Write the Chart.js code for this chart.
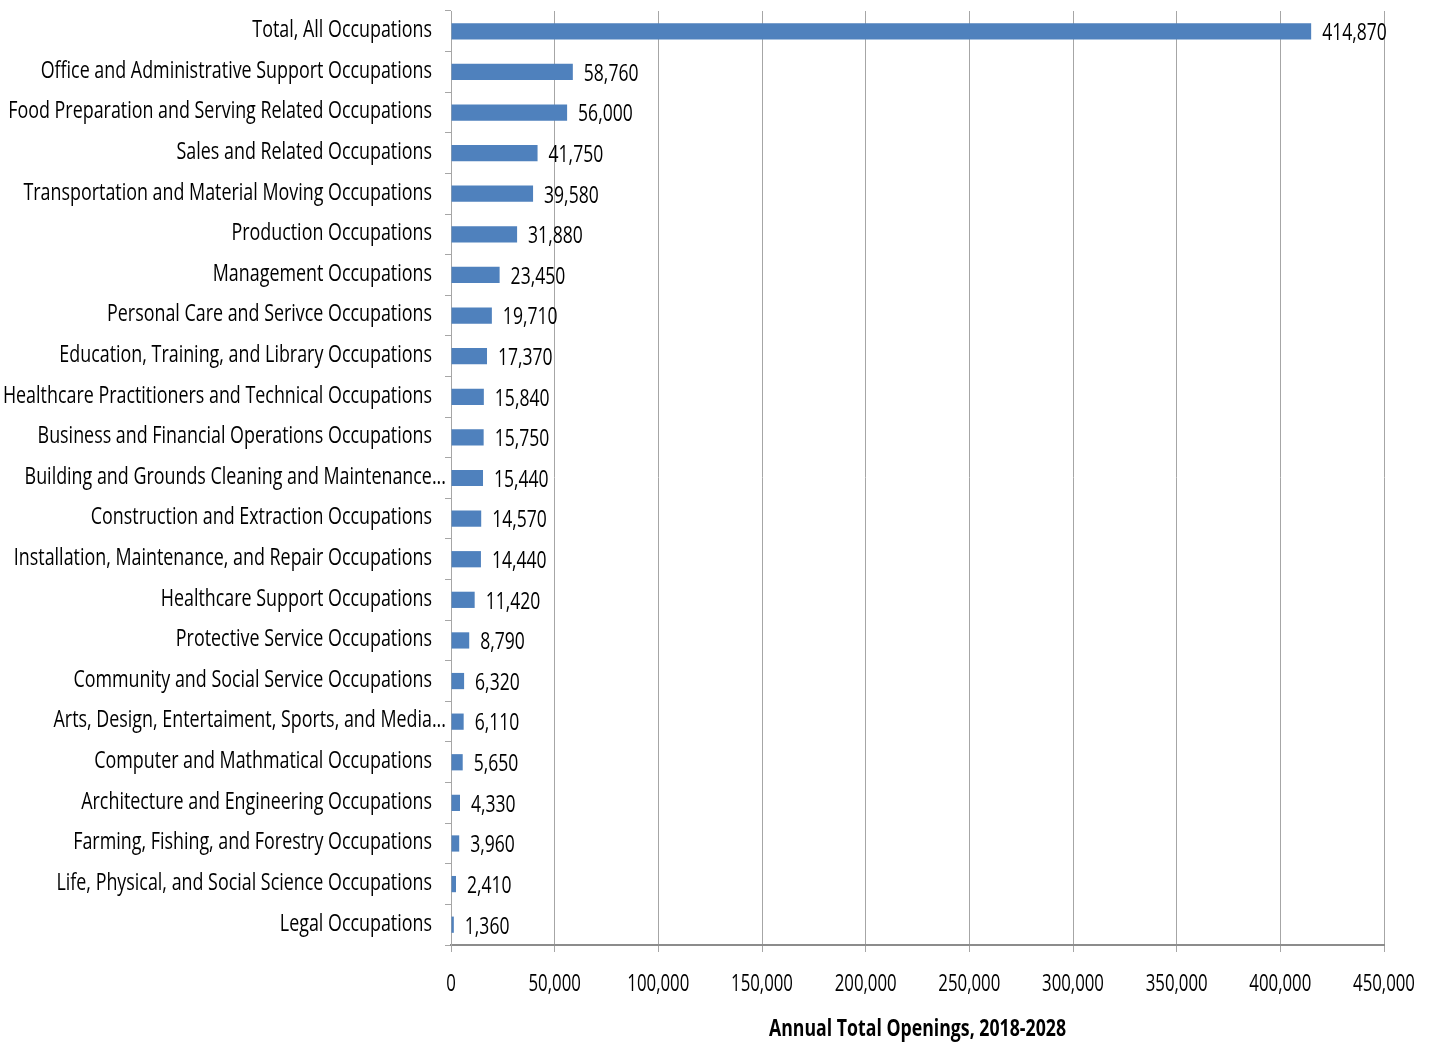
<!DOCTYPE html>
<html>
<head>
<meta charset="utf-8">
<script src="https://cdn.jsdelivr.net/npm/chart.js@4/dist/chart.umd.min.js"></script>
<style>
  html, body { margin: 0; padding: 0; background: #fff; }
  #wrap { width: 1433px; height: 1043px; }
</style>
</head>
<body>
<div id="wrap"><canvas id="c" width="1433" height="1043"></canvas></div>
<script>
const categories = [
  "Total, All Occupations",
  "Office and Administrative Support Occupations",
  "Food Preparation and Serving Related Occupations",
  "Sales and Related Occupations",
  "Transportation and Material Moving Occupations",
  "Production Occupations",
  "Management Occupations",
  "Personal Care and Serivce Occupations",
  "Education, Training, and Library Occupations",
  "Healthcare Practitioners and Technical Occupations",
  "Business and Financial Operations Occupations",
  "Building and Grounds Cleaning and Maintenance...",
  "Construction and Extraction Occupations",
  "Installation, Maintenance, and Repair Occupations",
  "Healthcare Support Occupations",
  "Protective Service Occupations",
  "Community and Social Service Occupations",
  "Arts, Design, Entertaiment, Sports, and Media...",
  "Computer and Mathmatical Occupations",
  "Architecture and Engineering Occupations",
  "Farming, Fishing, and Forestry Occupations",
  "Life, Physical, and Social Science Occupations",
  "Legal Occupations"
];
const openings = [414870, 58760, 56000, 41750, 39580, 31880, 23450, 19710, 17370, 15840, 15750, 15440, 14570, 14440, 11420, 8790, 6320, 6110, 5650, 4330, 3960, 2410, 1360];
const xTickValues = [0, 50000, 100000, 150000, 200000, 250000, 300000, 350000, 400000, 450000];
const axisTitle = "Annual Total Openings, 2018-2028";

const FAMILY = "'Open Sans', sans-serif";
const fmt = v => v.toLocaleString('en-US');

// draws text horizontally condensed (the source uses a condensed typeface)
function condensedText(ctx, text, x, y, align, font, sx) {
  ctx.save();
  ctx.translate(x, y);
  ctx.scale(sx, 1);
  ctx.font = font;
  ctx.fillStyle = '#000';
  ctx.textAlign = align;
  ctx.textBaseline = 'middle';
  ctx.fillText(text, 0, 0);
  ctx.restore();
}

const condensedLabels = {
  id: 'condensedLabels',
  afterDraw(chart) {
    const ctx = chart.ctx;
    const xs = chart.scales.x, ys = chart.scales.y;
    const area = chart.chartArea;
    // category labels (truncated ones overhang toward the axis, as in the source)
    ys.ticks.forEach((t, i) => {
      const lbl = categories[i];
      const overhang = lbl.endsWith('...') ? 14 : 0;
      condensedText(ctx, lbl, ys.right - 19 + overhang, ys.getPixelForTick(i) - 1, 'right', "24px " + FAMILY, 0.745);
    });
    // value labels
    chart.getDatasetMeta(0).data.forEach((bar, i) => {
      condensedText(ctx, fmt(openings[i]), bar.x + 11, bar.y + 2, 'left', "24px " + FAMILY, 0.73);
    });
    // x tick labels
    xTickValues.forEach(v => {
      condensedText(ctx, fmt(v), xs.getPixelForValue(v), area.bottom + 39, 'center', "23px " + FAMILY, 0.73);
    });
    // axis title
    condensedText(ctx, axisTitle, (area.left + area.right) / 2, area.bottom + 84, 'center', "bold 23px " + FAMILY, 0.77);
  }
};

new Chart(document.getElementById('c'), {
  type: 'bar',
  data: {
    labels: categories,
    datasets: [{
      data: openings,
      backgroundColor: '#4F81BD',
      borderWidth: 0,
      categoryPercentage: 1.0,
      barPercentage: 0.4
    }]
  },
  options: {
    indexAxis: 'y',
    responsive: false,
    animation: false,
    layout: { padding: { top: 11, right: 49, bottom: 0, left: 0 } },
    plugins: { legend: { display: false }, tooltip: { enabled: false } },
    scales: {
      x: {
        min: 0, max: 450000,
        afterBuildTicks(scale) { scale.ticks = xTickValues.map(v => ({ value: v })); },
        afterFit(scale) { scale.height = 98; scale.paddingLeft = 0; scale.paddingRight = 0; },
        grid: { color: '#a6a6a6', lineWidth: 1, tickLength: 7, drawTicks: true },
        border: { color: '#8c8c8c', width: 2 },
        ticks: {
          color: 'rgba(0,0,0,0)', padding: 8, maxRotation: 0, autoSkip: false,
          font: { family: FAMILY, size: 16 },
          callback: v => fmt(v)
        },
        title: { display: false, text: axisTitle }
      },
      y: {
        afterFit(scale) { scale.width = 451; scale.paddingTop = 0; scale.paddingBottom = 0; },
        grid: { display: true, drawOnChartArea: false, drawTicks: true, tickLength: 6, color: '#a6a6a6', offset: true },
        border: { color: '#a6a6a6', width: 1 },
        ticks: {
          color: 'rgba(0,0,0,0)', padding: 13, autoSkip: false,
          font: { family: FAMILY, size: 12 }
        }
      }
    }
  },
  plugins: [condensedLabels]
});
</script>
</body>
</html>
